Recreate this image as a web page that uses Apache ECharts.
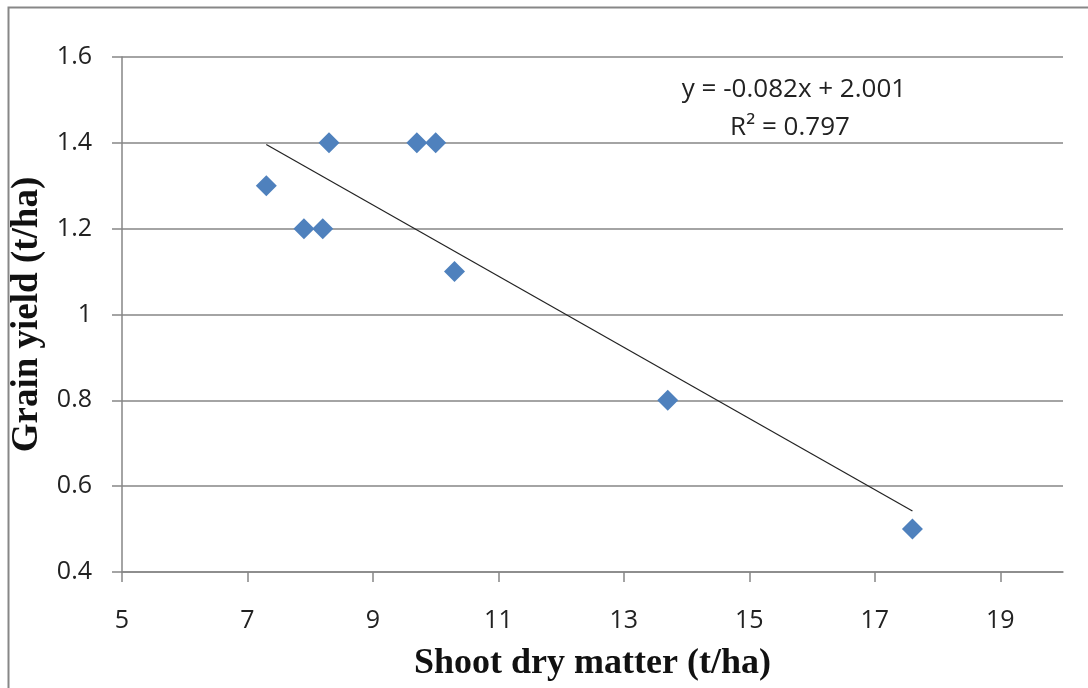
<!DOCTYPE html>
<html><head><meta charset="utf-8">
<script src="https://cdn.jsdelivr.net/npm/echarts@6/dist/echarts.min.js"></script>
<style>html,body{margin:0;padding:0;background:#fff}#c{width:1088px;height:688px}</style>
</head><body><div id="c"></div>
<script>
const shootDryMatter = [7.3, 7.9, 8.2, 8.3, 9.7, 10.0, 10.3, 13.7, 17.6];
const grainYield     = [1.3, 1.2, 1.2, 1.4, 1.4, 1.4, 1.1, 0.8, 0.5];
const equationLabel = 'y = -0.082x + 2.001';
const r2Label = 'R\u00B2 = 0.797';
const xTicks = [5, 7, 9, 11, 13, 15, 17, 19];

const points = shootDryMatter.map((x, i) => [x, grainYield[i]]);
// least-squares linear trendline from the data
const n = points.length;
const mx = shootDryMatter.reduce((a, b) => a + b, 0) / n;
const my = grainYield.reduce((a, b) => a + b, 0) / n;
let sxy = 0, sxx = 0;
points.forEach(([x, y]) => { sxy += (x - mx) * (y - my); sxx += (x - mx) * (x - mx); });
const slope = sxy / sxx, intercept = my - slope * mx;
const xMin = Math.min(...shootDryMatter), xMax = Math.max(...shootDryMatter);
const trend = [xMin, xMax].map(x => [x, slope * x + intercept]);

const chart = echarts.init(document.getElementById('c'));
chart.setOption({
  animation: false,
  backgroundColor: '#fff',
  graphic: [{
    type: 'rect', left: 6, top: 5, shape: {width: 1200, height: 800},
    style: {fill: 'none', stroke: '#878787', lineWidth: 2}, silent: true
  }, {
    type: 'text', x: 794, y: 90,
    style: {text: equationLabel, font: '26px "Open Sans", sans-serif', fill: '#222', align: 'center', verticalAlign: 'middle'}
  }, {
    type: 'text', x: 790, y: 128,
    style: {text: r2Label, font: '26px "Open Sans", sans-serif', fill: '#222', align: 'center', verticalAlign: 'middle'}
  }],
  grid: {left: 122, top: 57, right: 25, bottom: 116},
  xAxis: {
    type: 'value', min: 5, max: 20, interval: 2,
    name: 'Shoot dry matter (t/ha)', nameLocation: 'middle', nameGap: 74,
    nameTextStyle: {fontFamily: '"Liberation Serif", serif', fontWeight: 'bold', fontSize: 36, color: '#111'},
    axisLine: {show: true, lineStyle: {color: '#868686', width: 1.5}},
    axisTick: {show: true, length: 10, inside: false, customValues: xTicks, lineStyle: {color: '#868686', width: 1.5}},
    axisLabel: {customValues: xTicks, margin: 36, fontSize: 25, color: '#222', fontFamily: '"Open Sans", sans-serif'},
    splitLine: {show: false}
  },
  yAxis: {
    type: 'value', min: 0.4, max: 1.6, interval: 0.2,
    name: 'Grain yield (t/ha)', nameLocation: 'middle', nameGap: 58,
    nameTextStyle: {fontFamily: '"Liberation Serif", serif', fontWeight: 'bold', fontSize: 37, color: '#111'},
    axisLine: {show: true, lineStyle: {color: '#868686', width: 1.5}},
    axisTick: {show: true, length: 10, lineStyle: {color: '#868686', width: 1.5}},
    axisLabel: {margin: 30, fontSize: 25, color: '#222', fontFamily: '"Open Sans", sans-serif',
      formatter: v => String(parseFloat(v.toFixed(2)))},
    splitLine: {show: true, lineStyle: {color: '#868686', width: 1.5}}
  },
  series: [{
    type: 'line', data: trend, symbol: 'none', silent: true,
    lineStyle: {color: '#222', width: 1.2}, z: 1
  }, {
    type: 'scatter', data: points, symbol: 'diamond', symbolSize: 21,
    itemStyle: {color: '#4F81BD', opacity: 1}, z: 2
  }]
});
</script></body></html>
